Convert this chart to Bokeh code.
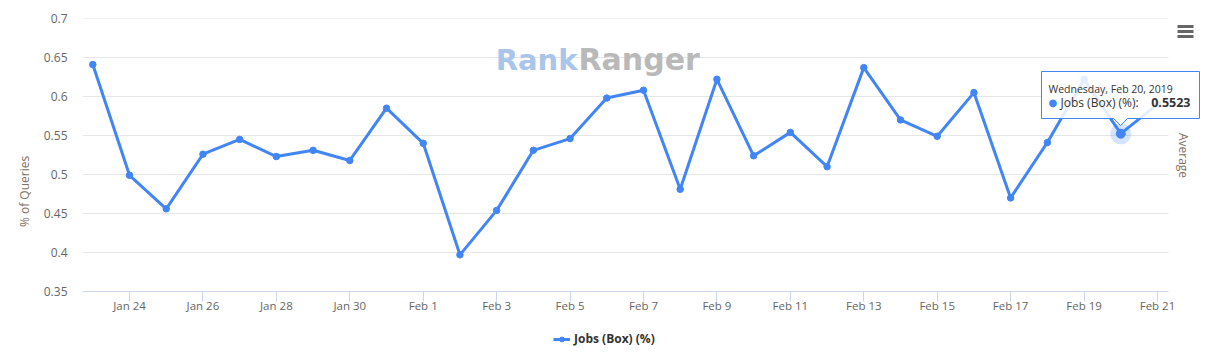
import math
import pandas as pd
from bokeh.plotting import figure
from bokeh.models import (Range1d, FixedTicker, CustomJSTickFormatter, PolyAnnotation,
                          Legend, LegendItem, Label, BoxAnnotation, ColumnDataSource)
from bokeh.embed import file_html
from bokeh.resources import INLINE

# ---- data ----
dates = ["2019-01-23", "2019-01-24", "2019-01-25", "2019-01-26", "2019-01-27",
         "2019-01-28", "2019-01-29", "2019-01-30", "2019-01-31", "2019-02-01",
         "2019-02-02", "2019-02-03", "2019-02-04", "2019-02-05", "2019-02-06",
         "2019-02-07", "2019-02-08", "2019-02-09", "2019-02-10", "2019-02-11",
         "2019-02-12", "2019-02-13", "2019-02-14", "2019-02-15", "2019-02-16",
         "2019-02-17", "2019-02-18", "2019-02-19", "2019-02-20", "2019-02-21"]
values = [0.641, 0.499, 0.456, 0.526, 0.545,
          0.523, 0.531, 0.518, 0.585, 0.540,
          0.397, 0.454, 0.531, 0.546, 0.598,
          0.608, 0.481, 0.622, 0.524, 0.554,
          0.510, 0.637, 0.570, 0.549, 0.605,
          0.470, 0.541, 0.622, 0.5523, 0.590]
series_name = "Jobs (Box) (%)"
tick_dates = ["2019-01-24", "2019-01-26", "2019-01-28", "2019-01-30", "2019-02-01",
              "2019-02-03", "2019-02-05", "2019-02-07", "2019-02-09", "2019-02-11",
              "2019-02-13", "2019-02-15", "2019-02-17", "2019-02-19", "2019-02-21"]
y_ticks = [0.35, 0.4, 0.45, 0.5, 0.55, 0.6, 0.65, 0.7]
hover_index = 28
tooltip_date = "Wednesday, Feb 20, 2019"

COLOR = "#4285f4"
FONT = "Open Sans"

# axis extent (left/right end of the x axis line) and full frame extent
x_lo = pd.Timestamp("2019-01-22 17:16")
x_hi = pd.Timestamp("2019-02-21 07:11")
frame_x_end = pd.Timestamp("2019-02-22 16:32")
y_lo, y_hi = 0.35, 0.7
frame_y_start = 0.2564

x = pd.to_datetime(dates)
src = ColumnDataSource(dict(x=x, y=values))
hl = ColumnDataSource(dict(x=[x[hover_index]], y=[values[hover_index]]))
grid_src = ColumnDataSource(dict(x0=[x_lo] * len(y_ticks), x1=[x_hi] * len(y_ticks), y=y_ticks))

p = figure(width=1219, height=364, x_axis_type="datetime",
           x_range=Range1d(x_lo, frame_x_end),
           y_range=Range1d(frame_y_start, y_hi),
           output_backend="svg", toolbar_location=None,
           min_border_left=82, min_border_right=0, min_border_top=18, min_border_bottom=0)
p.outline_line_color = None
p.background_fill_color = "white"
p.xgrid.grid_line_color = None
p.ygrid.grid_line_color = None

# horizontal grid lines limited to the axis extent
p.segment("x0", "y", "x1", "y", source=grid_src, line_color="#e6e6e6", line_width=1,
          level="underlay")

line_r = p.line("x", "y", source=src, line_color=COLOR, line_width=3)
dot_r = p.scatter("x", "y", source=src, size=6.5, fill_color=COLOR, line_color=COLOR)
p.scatter("x", "y", source=hl, size=21, fill_color=COLOR, fill_alpha=0.22, line_color=None)
p.scatter("x", "y", source=hl, size=9, fill_color=COLOR, line_color=COLOR)

# x axis, fixed at the bottom of the value range
xa = p.xaxis[0]
xa.fixed_location = y_lo
xa.bounds = (x_lo, x_hi)
xa.ticker = FixedTicker(ticks=[pd.Timestamp(d).value / 1e6 for d in tick_dates])
xa.formatter = CustomJSTickFormatter(code="""
const d = new Date(tick);
const m = ["Jan","Feb","Mar","Apr","May","Jun","Jul","Aug","Sep","Oct","Nov","Dec"][d.getUTCMonth()];
return m + " " + d.getUTCDate();
""")
xa.axis_line_color = "#ccd6eb"
xa.major_tick_line_color = "#ccd6eb"
xa.major_tick_out = 10
xa.major_tick_in = 0
xa.minor_tick_line_color = None
xa.major_label_standoff = -3
xa.major_label_text_font = FONT
xa.major_label_text_font_size = "11.5px"
xa.major_label_text_color = "#666666"

# y axis
ya = p.yaxis[0]
ya.ticker = FixedTicker(ticks=y_ticks)
ya.formatter = CustomJSTickFormatter(code="return String(Math.round(tick*100)/100);")
ya.axis_line_color = None
ya.major_tick_line_color = None
ya.minor_tick_line_color = None
ya.major_tick_out = 0
ya.major_label_standoff = 15
ya.major_label_text_font = FONT
ya.major_label_text_font_size = "12px"
ya.major_label_text_color = "#666666"
ya.axis_label = "% of Queries"
ya.axis_label_text_font = FONT
ya.axis_label_text_font_size = "12px"
ya.axis_label_text_font_style = "normal"
ya.axis_label_text_color = "#7f6f60"
ya.axis_label_standoff = 8

# ---- annotations (screen units, relative to the plot frame's lower-left corner) ----
def S(X, Y):
    return X - 82, 364 - Y

# right-hand axis title
ax_, ay_ = S(1183, 155)
p.add_layout(Label(x=ax_, y=ay_, x_units="screen", y_units="screen", text="Average",
                   angle=-math.pi / 2, text_align="center", text_baseline="middle",
                   text_font=FONT, text_font_size="12px", text_color="#7f6f60"))

# legend
lx, ly = S(553, 347)
legend = Legend(items=[LegendItem(label=series_name, renderers=[line_r, dot_r])],
                location=(lx, ly), orientation="horizontal",
                border_line_color=None, background_fill_alpha=0,
                label_text_font=FONT, label_text_font_style="bold",
                label_text_font_size="12px", label_text_color="#333333",
                glyph_width=17, glyph_height=12, label_standoff=4,
                margin=0, padding=3)
p.add_layout(legend)

# watermark
wx, wy = S(577, 59)
p.add_layout(Label(x=wx, y=wy, x_units="screen", y_units="screen", text="Rank",
                   text_align="right", text_baseline="alphabetic",
                   text_font="DejaVu Sans", text_font_style="bold", text_font_size="29px",
                   text_color="#a9c5ea"))
p.add_layout(Label(x=wx + 1, y=wy, x_units="screen", y_units="screen", text="Ranger",
                   text_align="left", text_baseline="alphabetic",
                   text_font="DejaVu Sans", text_font_style="bold", text_font_size="30px",
                   text_color="#b9b9b9"))

# hamburger menu icon
for Yc in (26, 31, 36):
    l, t = S(1177, Yc - 1.5)
    r, b = S(1193, Yc + 1.5)
    p.add_layout(BoxAnnotation(left=l, right=r, top=t, bottom=b,
                               left_units="screen", right_units="screen",
                               top_units="screen", bottom_units="screen",
                               fill_color="#666666", fill_alpha=1, line_color=None))

# tooltip box with its pointer
outline = [S(1041, 71), S(1199, 71), S(1199, 118), S(1127, 118), S(1120, 125),
           S(1113, 118), S(1041, 118)]
p.add_layout(PolyAnnotation(xs=[q[0] for q in outline], ys=[q[1] for q in outline],
                            xs_units="screen", ys_units="screen",
                            fill_color="white", fill_alpha=0.85,
                            line_color=COLOR, line_width=1, line_alpha=1))
tx, ty = S(1048, 88)
p.add_layout(Label(x=tx, y=ty, x_units="screen", y_units="screen", text=tooltip_date,
                   text_baseline="middle", text_font=FONT, text_font_size="10.5px",
                   text_color="#333333"))
dx, dy = S(1048, 102)
p.add_layout(Label(x=dx, y=dy, x_units="screen", y_units="screen", text="\u25cf",
                   text_baseline="middle", text_font="DejaVu Sans", text_font_size="10px",
                   text_color=COLOR))
jx, jy = S(1060, 102)
p.add_layout(Label(x=jx, y=jy, x_units="screen", y_units="screen", text=series_name + ":",
                   text_baseline="middle", text_font=FONT, text_font_size="12px",
                   text_color="#333333"))
vx, vy = S(1190, 102)
p.add_layout(Label(x=vx, y=vy, x_units="screen", y_units="screen",
                   text=f"{values[hover_index]:.4f}", text_align="right",
                   text_baseline="middle", text_font=FONT, text_font_style="bold",
                   text_font_size="12.5px", text_color="#333333"))

open("out.html", "w").write(file_html(p, INLINE))
